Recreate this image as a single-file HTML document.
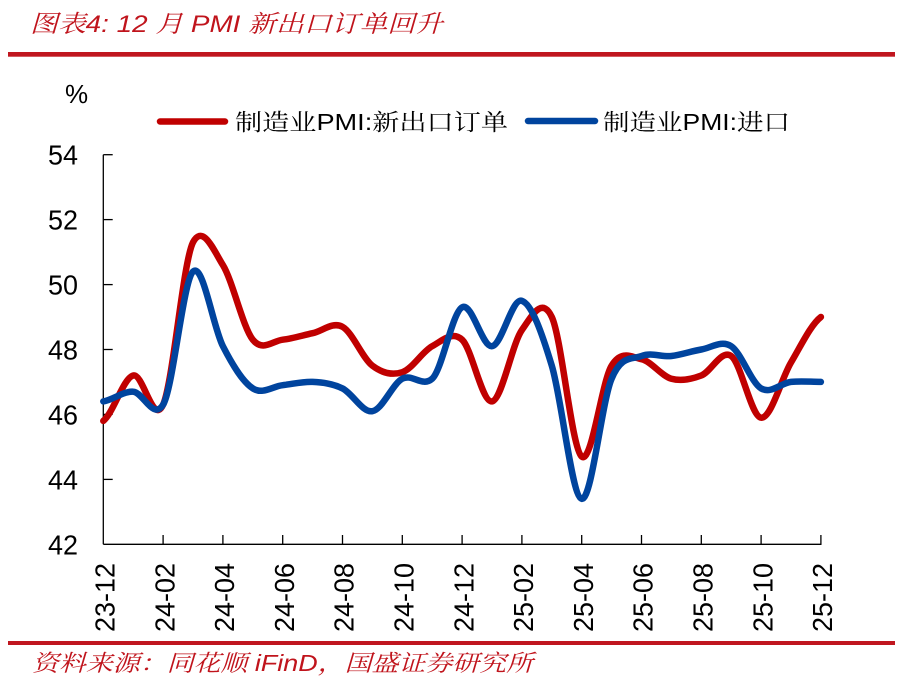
<!DOCTYPE html>
<html>
<head>
<meta charset="utf-8">
<style>
  html, body { margin: 0; padding: 0; background: #ffffff; }
  body { width: 915px; height: 693px; overflow: hidden; }
  svg { display: block; }
</style>
</head>
<body>
<svg width="915" height="693" viewBox="0 0 915 693" xmlns="http://www.w3.org/2000/svg">
  <rect x="0" y="0" width="915" height="693" fill="#ffffff"/>

  <!-- Title -->
  <text x="30" y="32" font-family="'Liberation Sans', 'Noto Serif CJK SC', serif" font-style="italic" font-size="24" fill="#C0141C" textLength="413" lengthAdjust="spacingAndGlyphs">图表4:  12 月 PMI 新出口订单回升</text>
  <rect x="8" y="52" width="887" height="4.7" fill="#C0161F"/>

  <!-- % unit -->
  <text x="65" y="103" font-family="'Liberation Sans', sans-serif" font-size="26" fill="#000">%</text>

  <!-- Legend -->
  <line x1="160" y1="121.5" x2="225" y2="121.5" stroke="#C00000" stroke-width="6.5" stroke-linecap="round"/>
  <text x="235" y="130" font-family="'Liberation Sans', 'Noto Serif CJK SC', serif" font-size="23" fill="#000" textLength="273" lengthAdjust="spacingAndGlyphs">制造业PMI:新出口订单</text>
  <line x1="528" y1="121" x2="595" y2="121" stroke="#00449E" stroke-width="6.5" stroke-linecap="round"/>
  <text x="603" y="130" font-family="'Liberation Sans', 'Noto Serif CJK SC', serif" font-size="23" fill="#000" textLength="187" lengthAdjust="spacingAndGlyphs">制造业PMI:进口</text>

  <!-- Y axis labels -->
  <g font-family="'Liberation Sans', sans-serif" font-size="28" fill="#000" text-anchor="end">
    <text x="78" y="164.7" textLength="30" lengthAdjust="spacingAndGlyphs">54</text>
    <text x="78" y="229.6" textLength="30" lengthAdjust="spacingAndGlyphs">52</text>
    <text x="78" y="294.6" textLength="30" lengthAdjust="spacingAndGlyphs">50</text>
    <text x="78" y="359.5" textLength="30" lengthAdjust="spacingAndGlyphs">48</text>
    <text x="78" y="424.4" textLength="30" lengthAdjust="spacingAndGlyphs">46</text>
    <text x="78" y="489.4" textLength="30" lengthAdjust="spacingAndGlyphs">44</text>
    <text x="78" y="554.3" textLength="30" lengthAdjust="spacingAndGlyphs">42</text>
  </g>

  <!-- Axes -->
  <g stroke="#000" stroke-width="1.3" fill="none">
    <line x1="103.3" y1="154.7" x2="103.3" y2="544.3"/>
    <line x1="103.3" y1="544.3" x2="821.5" y2="544.3"/>
    <line x1="103.3" y1="154.7" x2="112.7" y2="154.7"/>
    <line x1="103.3" y1="219.6" x2="112.7" y2="219.6"/>
    <line x1="103.3" y1="284.6" x2="112.7" y2="284.6"/>
    <line x1="103.3" y1="349.5" x2="112.7" y2="349.5"/>
    <line x1="103.3" y1="414.4" x2="112.7" y2="414.4"/>
    <line x1="103.3" y1="479.4" x2="112.7" y2="479.4"/>
    <line x1="163.1" y1="535" x2="163.1" y2="544.3"/>
    <line x1="222.9" y1="535" x2="222.9" y2="544.3"/>
    <line x1="282.7" y1="535" x2="282.7" y2="544.3"/>
    <line x1="342.5" y1="535" x2="342.5" y2="544.3"/>
    <line x1="402.3" y1="535" x2="402.3" y2="544.3"/>
    <line x1="462.1" y1="535" x2="462.1" y2="544.3"/>
    <line x1="521.9" y1="535" x2="521.9" y2="544.3"/>
    <line x1="581.7" y1="535" x2="581.7" y2="544.3"/>
    <line x1="641.5" y1="535" x2="641.5" y2="544.3"/>
    <line x1="701.3" y1="535" x2="701.3" y2="544.3"/>
    <line x1="761.1" y1="535" x2="761.1" y2="544.3"/>
    <line x1="820.9" y1="535" x2="820.9" y2="544.3"/>
  </g>

  <!-- X axis labels (rotated) -->
  <g font-family="'Liberation Sans', sans-serif" font-size="28" fill="#000" text-anchor="end">
    <text transform="translate(114.5,563) rotate(-90)" textLength="69" lengthAdjust="spacingAndGlyphs">23-12</text>
    <text transform="translate(174.3,563) rotate(-90)" textLength="69" lengthAdjust="spacingAndGlyphs">24-02</text>
    <text transform="translate(234.1,563) rotate(-90)" textLength="69" lengthAdjust="spacingAndGlyphs">24-04</text>
    <text transform="translate(293.9,563) rotate(-90)" textLength="69" lengthAdjust="spacingAndGlyphs">24-06</text>
    <text transform="translate(353.7,563) rotate(-90)" textLength="69" lengthAdjust="spacingAndGlyphs">24-08</text>
    <text transform="translate(413.5,563) rotate(-90)" textLength="69" lengthAdjust="spacingAndGlyphs">24-10</text>
    <text transform="translate(473.3,563) rotate(-90)" textLength="69" lengthAdjust="spacingAndGlyphs">24-12</text>
    <text transform="translate(533.1,563) rotate(-90)" textLength="69" lengthAdjust="spacingAndGlyphs">25-02</text>
    <text transform="translate(592.9,563) rotate(-90)" textLength="69" lengthAdjust="spacingAndGlyphs">25-04</text>
    <text transform="translate(652.7,563) rotate(-90)" textLength="69" lengthAdjust="spacingAndGlyphs">25-06</text>
    <text transform="translate(712.5,563) rotate(-90)" textLength="69" lengthAdjust="spacingAndGlyphs">25-08</text>
    <text transform="translate(772.3,563) rotate(-90)" textLength="69" lengthAdjust="spacingAndGlyphs">25-10</text>
    <text transform="translate(832.1,563) rotate(-90)" textLength="69" lengthAdjust="spacingAndGlyphs">25-12</text>
  </g>

  <!-- Red series -->
  <path fill="none" stroke="#C00000" stroke-width="6.5" stroke-linecap="round" stroke-linejoin="round"
    d="M103.3,420.9
       C113.27,413.33 123.23,378.2 133.2,375.5
       C143.17,372.8 153.13,426.9 163.1,404.7
       C173.07,382.5 183.03,262.0 193.0,242.3
       C202.97,224.0 212.93,248.87 222.9,265.1
       C232.87,281.33 242.83,327.27 252.8,339.7
       C262.77,352.13 272.73,340.78 282.7,339.7
       C292.67,338.62 302.63,335.35 312.6,333.2
       C322.57,331.05 332.53,321.38 342.5,326.8
       C352.47,332.22 362.43,358.13 372.4,365.7
       C382.37,373.27 392.33,375.45 402.3,372.2
       C412.27,368.95 422.23,351.62 432.2,346.2
       C442.17,340.78 452.13,330.5 462.1,339.7
       C472.07,348.9 482.03,403.02 492.0,401.4
       C501.97,399.78 511.93,344.07 521.9,330.0
       C531.87,315.93 541.83,295.9 551.8,317.0
       C561.77,338.1 571.73,448.48 581.7,456.6
       C591.67,464.72 601.63,381.93 611.6,365.7
       C621.57,349.47 631.53,357.03 641.5,359.2
       C651.47,361.37 661.43,375.98 671.4,378.7
       C681.37,381.42 691.33,379.28 701.3,375.5
       C711.27,371.72 721.23,348.97 731.2,356.0
       C741.17,363.03 751.13,416.62 761.1,417.7
       C771.07,418.78 781.03,379.28 791.0,362.5
       C800.97,345.72 810.93,324.58 820.9,317.0"/>

  <!-- Blue series -->
  <path fill="none" stroke="#00449E" stroke-width="6.5" stroke-linecap="round" stroke-linejoin="round"
    d="M103.3,401.4
       C113.27,399.78 123.23,391.15 133.2,391.7
       C143.17,392.25 153.13,420.72 163.1,404.7
       C173.07,388.68 183.03,281.35 193.0,271.6
       C202.97,261.85 212.93,326.73 222.9,346.2
       C232.87,365.67 242.83,381.9 252.8,388.4
       C262.77,394.9 272.73,386.28 282.7,385.2
       C292.67,384.12 302.63,381.37 312.6,381.9
       C322.57,382.43 332.53,383.52 342.5,388.4
       C352.47,393.28 362.43,412.82 372.4,411.2
       C382.37,409.58 392.33,384.12 402.3,378.7
       C412.27,373.28 422.23,387.6 432.2,378.7
       C442.17,369.8 452.13,312.72 462.1,307.3
       C472.07,301.88 482.03,347.28 492.0,346.2
       C501.97,345.12 511.93,297.55 521.9,300.8
       C531.87,304.05 541.83,332.7 551.8,365.7
       C561.77,398.7 571.73,496.63 581.7,498.8
       C591.67,500.97 601.63,402.5 611.6,378.7
       C621.57,354.9 631.53,359.78 641.5,356.0
       C651.47,352.22 661.43,357.08 671.4,356.0
       C681.37,354.92 691.33,351.13 701.3,349.5
       C711.27,347.87 721.23,339.72 731.2,346.2
       C741.17,352.68 751.13,382.45 761.1,388.4
       C771.07,394.35 781.03,382.98 791.0,381.9
       C800.97,380.82 810.93,381.9 820.9,381.9"/>

  <!-- Bottom rule and source -->
  <rect x="8" y="641" width="887" height="4" fill="#C0161F"/>
  <text x="32" y="671" font-family="'Liberation Sans', 'Noto Serif CJK SC', serif" font-style="italic" font-size="23" fill="#C0141C" textLength="501" lengthAdjust="spacingAndGlyphs">资料来源：同花顺 iFinD，国盛证券研究所</text>
</svg>
</body>
</html>
